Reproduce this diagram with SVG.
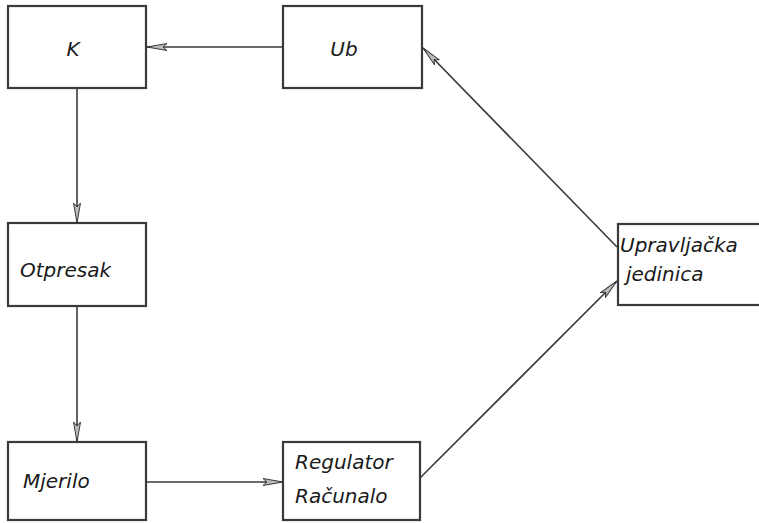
<svg xmlns="http://www.w3.org/2000/svg" width="759" height="523" viewBox="0 0 759 523">
<style>
.box{fill:#fff;stroke:#3a3a3a;stroke-width:2.2}
.lbl{font-family:"DejaVu Sans","Liberation Sans",sans-serif;font-style:italic;font-size:20px;fill:#1a1a1a}
.edge{stroke:#3a3a3a;stroke-width:1.6;fill:none;marker-end:url(#ah)}
</style>
<defs>
<marker id="ah" viewBox="0 0 20 8" refX="20" refY="4" markerWidth="20" markerHeight="8" markerUnits="userSpaceOnUse" orient="auto">
<path d="M0,0.5 L20,4 L0,7.5 L4,4 Z" fill="#bbb" stroke="#3a3a3a" stroke-width="1"/>
</marker>
</defs>
<rect width="759" height="523" fill="#fff"/>
<g id="connectors">
<line class="edge" x1="283" y1="47" x2="147" y2="47"/>
<line class="edge" x1="77" y1="88" x2="77" y2="223"/>
<line class="edge" x1="77" y1="306" x2="77" y2="442"/>
<line class="edge" x1="146" y1="482" x2="283" y2="482"/>
<line class="edge" x1="420" y1="478" x2="617" y2="281"/>
<line class="edge" x1="617" y1="247" x2="423" y2="48"/>
</g>
<g id="K"><rect class="box" x="8" y="6" width="138" height="82"/><text class="lbl" x="73" y="56" text-anchor="middle">K</text></g>
<g id="Ub"><rect class="box" x="283" y="6" width="139" height="82"/><text class="lbl" x="344" y="56" text-anchor="middle">Ub</text></g>
<g id="Otpresak"><rect class="box" x="8" y="223" width="138" height="83"/><text class="lbl" x="20" y="277">Otpresak</text></g>
<g id="Mjerilo"><rect class="box" x="8" y="442" width="138" height="78"/><text class="lbl" x="23" y="488">Mjerilo</text></g>
<g id="Regulator"><rect class="box" x="283" y="442" width="137" height="78"/><text class="lbl" x="295" y="469">Regulator</text><text class="lbl" x="295" y="503">Računalo</text></g>
<g id="Upravljacka"><rect class="box" x="618" y="224" width="145" height="81"/><text class="lbl" x="620" y="252">Upravljačka</text><text class="lbl" x="626" y="281">jedinica</text></g>
</svg>
